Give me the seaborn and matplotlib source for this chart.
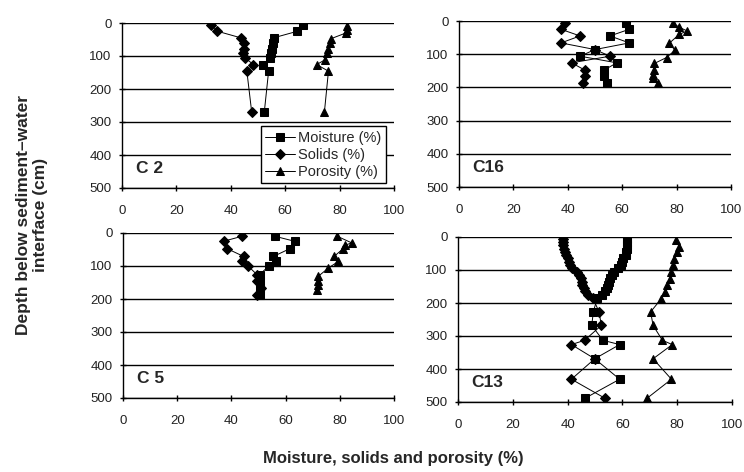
import matplotlib
matplotlib.use("Agg")
import matplotlib.pyplot as plt
import seaborn as sns
import pandas as pd

# ---------------- data ----------------
c2_depth = [5, 25, 45, 60, 79, 91, 106, 126, 146, 271]
c2_moisture = [66.7, 64.5, 55.7, 55.4, 55.1, 54.8, 54.5, 52.0, 53.9, 52.3]
c2_solids = [32.8, 35.1, 43.7, 45.0, 44.7, 44.4, 45.3, 48.3, 45.9, 47.7]
c2_por_depth = [8, 20, 30, 48, 61, 79, 91, 111, 126, 146, 271]
c2_porosity = [82.9, 82.6, 82.4, 76.7, 76.5, 75.9, 75.3, 74.7, 71.6, 75.9, 74.4]

c16_depth = [7, 25, 45, 66, 86, 106, 126, 148, 165, 188]
c16_moisture = [61.4, 62.6, 55.5, 62.6, 50.0, 44.5, 58.0, 53.3, 53.3, 54.4]
c16_solids = [39.0, 37.5, 44.5, 37.5, 50.0, 55.5, 41.4, 46.3, 46.3, 45.6]
c16_por_depth = [7, 19, 30, 40, 67, 88, 110, 128, 148, 163, 173, 186]
c16_porosity = [78.8, 81.0, 83.9, 81.0, 77.3, 79.4, 76.3, 71.8, 71.6, 71.4, 71.2, 73.0]

c5_depth = [10, 25, 47, 71, 86, 101, 126, 146, 167, 187]
c5_moisture = [56.1, 63.3, 61.7, 55.5, 56.5, 53.7, 50.4, 50.4, 50.4, 50.6]
c5_solids = [43.9, 37.1, 38.3, 44.5, 43.9, 46.3, 49.4, 49.4, 51.0, 49.4]
c5_por_depth = [10, 30, 37, 47, 71, 86, 106, 131, 146, 157, 172]
c5_porosity = [79.1, 84.4, 81.9, 81.3, 77.9, 79.5, 75.8, 72.1, 72.1, 71.8, 71.5]

c13_depth = [5, 15, 25, 35, 45, 55, 65, 75, 85, 95, 105, 115, 125, 135, 145,
             155, 165, 175, 185, 227, 268, 313, 326, 369, 431, 488]
c13_moisture = [61.8, 61.8, 61.6, 61.5, 61.4, 61.2, 60.4, 60.0, 59.6, 58.5,
                56.8, 56.2, 55.5, 55.2, 54.8, 54.2, 53.5, 52.5, 50.8, 49.4,
                48.8, 52.9, 59.0, 49.9, 59.0, 46.5]
c13_solids = [38.5, 38.3, 38.5, 38.8, 39.2, 39.5, 40.0, 40.5, 40.8, 41.5,
              43.5, 44.0, 44.8, 45.2, 45.3, 46.0, 46.5, 47.5, 49.2, 51.5,
              52.3, 46.2, 41.4, 49.9, 41.4, 53.5]
c13_por_depth = [10, 30, 45, 66, 86, 106, 126, 146, 167, 187, 227, 268, 313,
                 326, 369, 431, 488]
c13_porosity = [79.7, 80.7, 80.0, 79.0, 78.5, 77.9, 77.2, 76.4, 75.5, 74.2,
                70.3, 71.2, 74.6, 78.2, 71.2, 77.9, 69.1]

cores = ["C2", "C16", "C5", "C13"]
x_ticks = [0, 20, 40, 60, 80, 100]
y_ticks = [0, 100, 200, 300, 400, 500]

panels = {
    "C2": (c2_depth, c2_moisture, c2_solids, c2_por_depth, c2_porosity),
    "C16": (c16_depth, c16_moisture, c16_solids, c16_por_depth, c16_porosity),
    "C5": (c5_depth, c5_moisture, c5_solids, c5_por_depth, c5_porosity),
    "C13": (c13_depth, c13_moisture, c13_solids, c13_por_depth, c13_porosity),
}

# ---------------- style ----------------
sns.set_theme(style="white")
plt.rcParams["font.family"] = ["Liberation Sans", "DejaVu Sans"]

fig = plt.figure(figsize=(7.44, 4.72), dpi=100)
W, H = 744.0, 472.0
boxes = {
    "C2": (122, 23, 394, 188),
    "C16": (459, 21, 731, 187),
    "C5": (123, 233, 394, 398),
    "C13": (458, 237, 732, 402),
}

for core in cores:
    l, t, r, b = boxes[core]
    ax = fig.add_axes([l / W, 1 - b / H, (r - l) / W, (b - t) / H])
    depth, moist, solids, pdepth, por = panels[core]
    dm = pd.DataFrame({"value": moist, "depth": depth})
    ds = pd.DataFrame({"value": solids, "depth": depth})
    dp = pd.DataFrame({"value": por, "depth": pdepth})
    common = dict(x="value", y="depth", sort=False, estimator=None,
                  color="black", linewidth=0.7, ax=ax, markeredgecolor="black")
    sns.lineplot(data=dm, marker="s", markersize=6.3, label="Moisture (%)", **common)
    sns.lineplot(data=ds, marker="D", markersize=5.2, label="Solids (%)", **common)
    sns.lineplot(data=dp, marker="^", markersize=6.3, label="Porosity (%)", **common)

    ax.set_xlim(0, 100)
    ax.set_ylim(500, 0)
    ax.set_xticks(x_ticks)
    ax.set_yticks(y_ticks)
    ax.set_xlabel("")
    ax.set_ylabel("")
    ax.yaxis.grid(True, color="black", linewidth=1.0)
    ax.xaxis.grid(False)
    for s in ["top", "right"]:
        ax.spines[s].set_visible(False)
    for s in ["left", "bottom"]:
        ax.spines[s].set_color("black")
        ax.spines[s].set_linewidth(1.0)
    ax.tick_params(axis="both", direction="inout", length=5, width=1,
                   color="black", labelsize=9.5, labelcolor="#222222")
    ax.tick_params(axis="x", pad=10, bottom=True)
    ax.tick_params(axis="y", pad=5, left=True)
    ax.set_xticklabels([str(v) for v in x_ticks])
    ax.set_yticklabels([str(v) for v in y_ticks])
    ax.text(5, 440, " ".join(core) if core in ("C2", "C5") else core,
            fontsize=12.5, fontweight="bold", ha="left", va="center")
    if core == "C2":
        leg = ax.legend(loc="lower right", bbox_to_anchor=(0.97, 0.03),
                        frameon=True, fancybox=False, framealpha=1,
                        edgecolor="black", fontsize=10.5, borderpad=0.3,
                        labelspacing=0.2, handlelength=2.0, handletextpad=0.25,
                        borderaxespad=0)
        leg.get_frame().set_linewidth(1.0)
    else:
        ax.get_legend().remove()

fig.text(32 / W, 1 - 215 / H, "Depth below sediment\u2013water\ninterface (cm)",
         rotation=90, ha="center", va="center", fontsize=12.5,
         fontweight="bold", multialignment="center")
fig.text(393 / W, 1 - 458 / H, "Moisture, solids and porosity (%)",
         ha="center", va="center", fontsize=12, fontweight="bold")

fig.savefig("out.png", dpi=100, facecolor="white")
